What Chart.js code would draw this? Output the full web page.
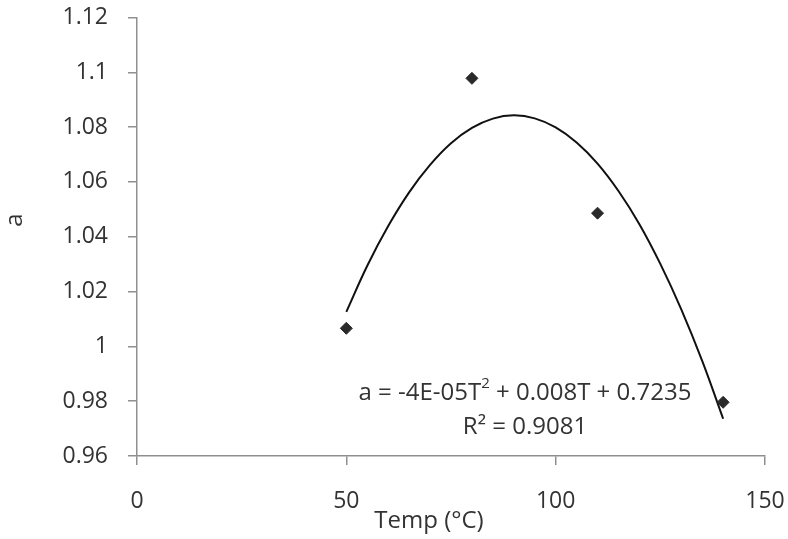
<!DOCTYPE html>
<html>
<head>
<meta charset="utf-8">
<script src="https://cdn.jsdelivr.net/npm/chart.js@4"></script>
<style>
html,body{margin:0;padding:0;background:#fff;}
#wrap{width:788px;height:539px;position:relative;}
</style>
</head>
<body>
<div id="wrap"><canvas id="c" width="788" height="539"></canvas></div>
<script>
// Measured points
const tempC = [50, 80, 110, 140];
const aValues = [1.0066, 1.0978, 1.0486, 0.9796];
// Trend curve samples
const trendT = [50, 55, 60, 65, 70, 75, 80, 85, 90, 95, 100, 105, 110, 115, 120, 125, 130, 135, 140];
const trendA = [1.0126, 1.0294, 1.0439, 1.0562, 1.0662, 1.0741, 1.0797, 1.0831, 1.0843, 1.0832, 1.0799, 1.0744, 1.0667, 1.0567, 1.0446, 1.0301, 1.0135, 0.9947, 0.9736];
const xTickValues = [0, 50, 100, 150];
const yMin = 0.96, yMax = 1.12, yStep = 0.02;
const xTitle = 'Temp (°C)';
const yTitle = 'a';
const eqLine1 = ['a = -4E-05T', '2', ' + 0.008T + 0.7235'];
const eqLine2 = 'R² = 0.9081';

const FONT = "'Open Sans', 'Noto Sans', sans-serif";
const TXT = '#333333';
const AX = '#8f8f8f';

const textPlugin = {
  id: 'texts',
  afterDraw(chart) {
    const ctx = chart.ctx;
    ctx.save();
    ctx.fillStyle = TXT;
    ctx.textBaseline = 'middle';
    // x title
    ctx.font = '24px ' + FONT;
    ctx.textAlign = 'center';
    ctx.fillText(xTitle, 429, 521);
    // y title
    ctx.save();
    ctx.translate(15, 220);
    ctx.rotate(-Math.PI / 2);
    ctx.fillText(yTitle, 0, 0);
    ctx.restore();
    // equation
    const big = '24px ' + FONT, small = '15px ' + FONT;
    ctx.font = big;
    const w1 = ctx.measureText(eqLine1[0]).width;
    const w3 = ctx.measureText(eqLine1[2]).width;
    ctx.font = small;
    const w2 = ctx.measureText(eqLine1[1]).width;
    const total = w1 + w2 + w3;
    let x = 525 - total / 2;
    ctx.textAlign = 'left';
    ctx.font = big;
    ctx.fillText(eqLine1[0], x, 393);
    x += w1;
    ctx.font = small;
    ctx.fillText(eqLine1[1], x, 384);
    x += w2;
    ctx.font = big;
    ctx.fillText(eqLine1[2], x, 393);
    ctx.textAlign = 'center';
    ctx.fillText(eqLine2, 525, 427);
    ctx.restore();
  }
};

new Chart(document.getElementById('c'), {
  type: 'scatter',
  data: {
    datasets: [
      {
        label: 'trend',
        data: trendT.map((t, i) => ({x: t, y: trendA[i]})),
        showLine: true,
        borderColor: '#111',
        borderWidth: 2,
        pointRadius: 0,
        tension: 0.4,
        fill: false,
        order: 2
      },
      {
        label: 'a',
        data: tempC.map((t, i) => ({x: t, y: aValues[i]})),
        pointStyle: 'rectRot',
        pointRadius: 6,
        backgroundColor: '#2a2a2a',
        borderColor: '#2a2a2a',
        borderWidth: 1,
        order: 1
      }
    ]
  },
  options: {
    responsive: false,
    animation: false,
    devicePixelRatio: 1,
    layout: {padding: {top: 17.5, right: 23, left: 0, bottom: 0}},
    plugins: {legend: {display: false}, tooltip: {enabled: false}},
    scales: {
      x: {
        type: 'linear',
        min: 0, max: 150,
        afterBuildTicks(s) { s.ticks = xTickValues.map(v => ({value: v})); },
        afterFit(s) { s.height = 83; s.paddingLeft = 0; s.paddingRight = 0; },
        border: {display: true, color: AX, width: 1.5},
        grid: {display: true, drawOnChartArea: false, drawTicks: true, tickLength: 9, color: AX, lineWidth: 1.5},
        ticks: {color: TXT, font: {family: FONT, size: 23}, padding: 23, maxRotation: 0}
      },
      y: {
        type: 'linear',
        min: yMin, max: yMax,
        ticks: {
          stepSize: yStep,
          color: TXT,
          font: {family: FONT, size: 23},
          padding: 20,
          callback: v => String(Number(v.toFixed(2)))
        },
        afterFit(s) { s.width = 137; s.paddingTop = 0; s.paddingBottom = 0; },
        border: {display: true, color: AX, width: 1.5},
        grid: {display: true, drawOnChartArea: false, drawTicks: true, tickLength: 9, color: AX, lineWidth: 1.5}
      }
    }
  },
  plugins: [textPlugin]
});
</script>
</body>
</html>
